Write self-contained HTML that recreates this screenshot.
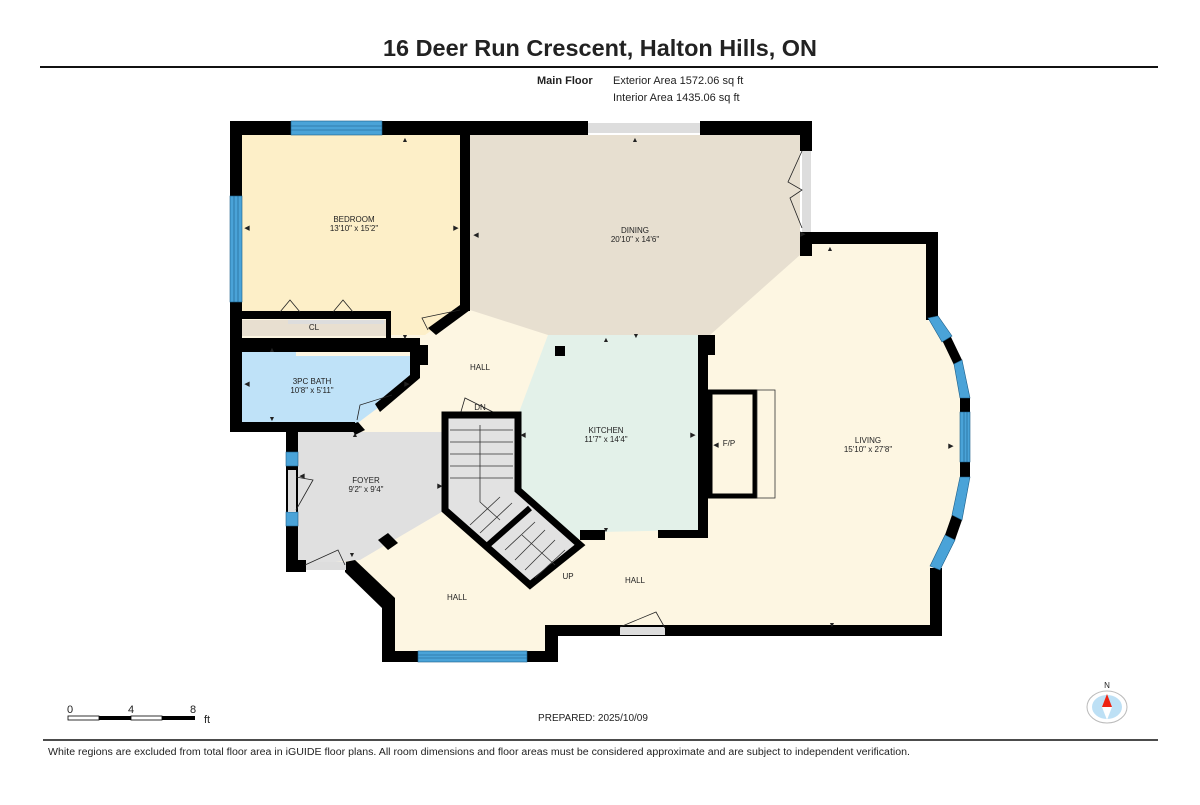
<!DOCTYPE html>
<html><head><meta charset="utf-8"><style>
html,body{margin:0;padding:0;background:#fff;}
svg{display:block;}
text{font-family:"Liberation Sans",Arial,sans-serif;fill:#222;}
</style></head><body>
<svg width="1200" height="805" viewBox="0 0 1200 805" xmlns="http://www.w3.org/2000/svg">
<rect width="1200" height="805" fill="#fff"/>
<text x="383" y="56" font-size="23" font-weight="bold" textLength="434" lengthAdjust="spacingAndGlyphs" fill="#111">16 Deer Run Crescent, Halton Hills, ON</text>
<line x1="40" y1="67" x2="1158" y2="67" stroke="#111" stroke-width="2"/>
<text x="537" y="84" font-size="11" font-weight="bold">Main Floor</text>
<text x="613" y="84" font-size="11">Exterior Area 1572.06 sq ft</text>
<text x="613" y="101" font-size="11">Interior Area 1435.06 sq ft</text>

<polygon points="242,135 800,135 800,244 926,244 926,318 950,345 962,405 962,487 950,545 930,570 930,625 558,625 558,651 395,651 395,600 355,565 298,565 298,432 242,432" fill="#fdf6e2"/>
<polygon points="242,135 460,135 460,310 425,335 388,335 388,313 242,313" fill="#fdefc8"/>
<rect x="242" y="320" width="144" height="16" fill="#e8dfd0"/>
<polygon points="242,348 296,348 296,356 410,356 410,378 395,395 355,425 242,425" fill="#bfe2f8"/>
<polygon points="470,135 800,135 800,255 710,335 548,335 470,310" fill="#e7dfd0"/>
<polygon points="548,335 698,335 698,530 600,532 575,540 518,490 518,415" fill="#e3f1e9"/>
<polygon points="298,432 445,432 445,510 360,560 298,565" fill="#e0e0e0"/>

<g fill="#000">
<rect x="230" y="121" width="358" height="14"/>
<rect x="700" y="121" width="112" height="14"/>
<rect x="800" y="121" width="12" height="30"/>
<rect x="800" y="232" width="12" height="24"/>
<rect x="800" y="232" width="138" height="12"/>
<rect x="926" y="232" width="12" height="88"/>
<rect x="930" y="568" width="12" height="68"/>
<rect x="545" y="625" width="397" height="11"/>
<rect x="545" y="625" width="13" height="37"/>
<rect x="382" y="651" width="176" height="11"/>
<rect x="382" y="600" width="13" height="62"/>
<polygon points="345,562 355,560 395,598 395,608 382,608 345,572"/>
<rect x="286" y="432" width="12" height="140"/>
<rect x="286" y="560" width="20" height="12"/>
<rect x="230" y="121" width="12" height="311"/>
<rect x="230" y="422" width="125" height="10"/>
<rect x="460" y="121" width="10" height="190"/>
<polygon points="460,305 470,310 436,335 428,328"/>
<rect x="230" y="311" width="160" height="8"/>
<rect x="386" y="311" width="5" height="27"/>
<rect x="230" y="338" width="185" height="14"/>
<rect x="410" y="338" width="10" height="40"/>
<rect x="413" y="345" width="15" height="20"/>
<polygon points="410,375 420,378 380,412 375,404"/>
<polygon points="350,425 358,422 365,430 355,435"/>
<rect x="698" y="335" width="17" height="20"/>
<rect x="698" y="335" width="10" height="200"/>
<rect x="580" y="530" width="25" height="10"/>
<rect x="658" y="530" width="50" height="8"/>
<rect x="555" y="346" width="10" height="10"/>
<polygon points="378,540 388,533 398,543 388,550"/>
<polygon points="942,340 950,335 962,360 954,365"/>
<polygon points="960,398 970,398 970,412 960,412"/>
<polygon points="960,462 970,462 970,477 960,477"/>
<polygon points="952,515 962,520 955,540 945,535"/>
</g>
<g fill="#4aa3d8" stroke="#1a5d88" stroke-width="0.6">
<rect x="291" y="121" width="91" height="14"/>
<rect x="230" y="196" width="12" height="106"/>
<rect x="418" y="651" width="109" height="11"/>
<rect x="286" y="452" width="12" height="14"/>
<rect x="286" y="512" width="12" height="14"/>
<polygon points="928,318 938,316 952,336 942,342"/>
<polygon points="954,364 962,360 970,398 960,398"/>
<polygon points="960,412 970,412 970,462 960,462"/>
<polygon points="960,477 970,477 962,520 952,515"/>
<polygon points="945,535 955,540 940,570 930,566"/>
</g>
<g stroke="#1a5d88" stroke-width="0.6">
<line x1="291" y1="126" x2="382" y2="126"/><line x1="291" y1="130" x2="382" y2="130"/>
<line x1="234" y1="196" x2="234" y2="302"/><line x1="238" y1="196" x2="238" y2="302"/>
<line x1="418" y1="655" x2="527" y2="655"/><line x1="418" y1="658" x2="527" y2="658"/>
<line x1="964" y1="412" x2="964" y2="462"/><line x1="967" y1="412" x2="967" y2="462"/>
</g>
<g fill="#ddd">
<rect x="588" y="123" width="112" height="10"/>
<rect x="802" y="151" width="9" height="81"/>
<rect x="620" y="627" width="45" height="8"/>
<rect x="306" y="562" width="40" height="8"/>
<rect x="288" y="470" width="8" height="42"/>
<rect x="288" y="320" width="96" height="4"/>
</g>
<g fill="none" stroke="#222" stroke-width="0.8">
<polyline points="280,312 290,300 300,312"/>
<polyline points="333,312 343,300 353,312"/>
<polyline points="802,151 788,182 802,190 790,198 802,228"/>
<polyline points="428,330 422,318 460,310"/>
<polyline points="357,420 360,405 392,395"/>
<polyline points="620,627 656,612 665,628"/>
<polyline points="305,565 338,550 345,565"/>
<polyline points="296,477 313,480 296,510"/>
<polyline points="460,415 465,398 503,417"/>
</g>
<polygon points="445,415 518,415 518,490 580,545 530,585 445,510" fill="#e2e2e2" stroke="#000" stroke-width="7" stroke-linejoin="miter"/>
<line x1="488" y1="545" x2="530" y2="508" stroke="#000" stroke-width="6"/>
<g stroke="#333" stroke-width="0.8" fill="none">
<line x1="450" y1="430" x2="513" y2="430"/><line x1="450" y1="442" x2="513" y2="442"/>
<line x1="450" y1="454" x2="513" y2="454"/><line x1="450" y1="466" x2="513" y2="466"/>
<line x1="450" y1="478" x2="513" y2="478"/>
<line x1="470" y1="525" x2="500" y2="497"/><line x1="480" y1="533" x2="512" y2="503"/>
<line x1="505" y1="550" x2="535" y2="522"/><line x1="515" y1="560" x2="545" y2="530"/>
<line x1="525" y1="570" x2="555" y2="540"/><line x1="535" y1="578" x2="565" y2="550"/>
<polyline points="480,425 480,502 500,520"/>
<polyline points="555,565 522,535"/>
</g>
<rect x="710" y="392" width="45" height="104" fill="none" stroke="#000" stroke-width="5"/>
<rect x="757" y="390" width="18" height="108" fill="#fdf6e2" stroke="#333" stroke-width="0.8"/>

<g font-size="8" text-anchor="middle">
<text x="354" y="222">BEDROOM</text><text x="354" y="231">13'10" x 15'2"</text>
<text x="314" y="330">CL</text>
<text x="312" y="384">3PC BATH</text><text x="312" y="393">10'8" x 5'11"</text>
<text x="635" y="233">DINING</text><text x="635" y="242">20'10" x 14'6"</text>
<text x="480" y="370">HALL</text>
<text x="480" y="410">DN</text>
<text x="606" y="433">KITCHEN</text><text x="606" y="442">11'7" x 14'4"</text>
<text x="729" y="446">F/P</text>
<text x="868" y="443">LIVING</text><text x="868" y="452">15'10" x 27'8"</text>
<text x="366" y="483">FOYER</text><text x="366" y="492">9'2" x 9'4"</text>
<text x="568" y="579">UP</text>
<text x="635" y="583">HALL</text>
<text x="457" y="600">HALL</text>
</g>
<g fill="#222" font-size="7" text-anchor="middle">
<text x="405" y="142">▲</text><text x="635" y="142">▲</text><text x="830" y="251">▲</text>
<text x="606" y="342">▲</text><text x="355" y="437">▲</text>
<text x="247" y="230">◀</text><text x="456" y="230">▶</text><text x="476" y="237">◀</text>
<text x="405" y="339">▼</text><text x="636" y="338">▼</text><text x="272" y="352">▲</text>
<text x="247" y="386">◀</text><text x="407" y="386">▶</text><text x="272" y="421">▼</text>
<text x="523" y="437">◀</text><text x="693" y="437">▶</text><text x="716" y="447">◀</text>
<text x="440" y="488">▶</text><text x="352" y="557">▼</text><text x="606" y="532">▼</text>
<text x="951" y="448">▶</text><text x="832" y="627">▼</text><text x="803" y="236">▶</text>
<text x="302" y="478">◀</text>
</g>

<text x="67" y="713" font-size="11">0</text><text x="128" y="713" font-size="11">4</text><text x="190" y="713" font-size="11">8</text>
<text x="204" y="723" font-size="11">ft</text>
<rect x="68" y="716" width="31" height="4" fill="#fff" stroke="#000" stroke-width="0.8"/>
<rect x="99" y="716" width="32" height="4" fill="#000"/>
<rect x="131" y="716" width="31" height="4" fill="#fff" stroke="#000" stroke-width="0.8"/>
<rect x="162" y="716" width="33" height="4" fill="#000"/>
<text x="593" y="721" font-size="10" text-anchor="middle">PREPARED: 2025/10/09</text>
<text x="1107" y="688" font-size="8" text-anchor="middle">N</text>
<ellipse cx="1107" cy="707" rx="20" ry="16" fill="#fff" stroke="#bbb"/>
<ellipse cx="1107" cy="707" rx="15" ry="12" fill="#bde0f5"/>
<polygon points="1107,694 1102,707 1112,707" fill="#e21"/>
<polygon points="1107,720 1102,707 1112,707" fill="#fff"/>
<line x1="43" y1="740" x2="1158" y2="740" stroke="#111" stroke-width="1.5"/>
<text x="48" y="755" font-size="10" textLength="862" lengthAdjust="spacingAndGlyphs">White regions are excluded from total floor area in iGUIDE floor plans. All room dimensions and floor areas must be considered approximate and are subject to independent verification.</text>
</svg>
</body></html>
